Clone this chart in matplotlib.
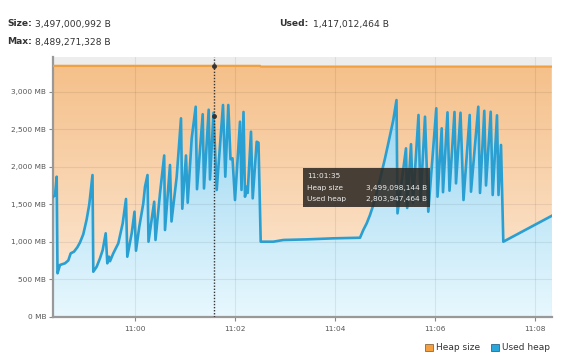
"""
Heap monitor chart: heap size vs used heap over ~10 minutes.
Time is kept as minutes after 11:00.
"""

import numpy as np
import matplotlib.pyplot as plt
from matplotlib.patches import Rectangle, Patch

# ─────────────────────────────────────────────
# Data
# ─────────────────────────────────────────────
heap_t = [-1.634, 2.50, 2.52, 8.334]
heap_mb = [3345, 3345, 3335, 3335]

used_t = [
    -1.634, -1.60, -1.566, -1.55, -1.50, -1.40, -1.334, -1.286, -1.22, -1.154,
    -1.10, -1.034, -0.966, -0.914, -0.85, -0.834, -0.766, -0.70, -0.646, -0.586,
    -0.554, -0.52, -0.50, -0.434, -0.334, -0.246, -0.18, -0.154, -0.066, -0.01,
    0.02, 0.086, 0.166, 0.20, 0.25, 0.27, 0.384, 0.41, 0.50, 0.584,
    0.60, 0.70, 0.73, 0.834, 0.92, 0.946, 1.02, 1.054, 1.134, 1.214,
    1.24, 1.354, 1.38, 1.474, 1.50, 1.57, 1.634, 1.76, 1.806, 1.866,
    1.91, 1.95, 2.00, 2.10, 2.13, 2.17, 2.20, 2.234, 2.254, 2.32,
    2.354, 2.434, 2.47, 2.514, 2.766, 2.966, 3.434, 3.966, 4.50, 4.566,
    4.634, 4.70, 4.766, 4.866, 5.00, 5.066, 5.166, 5.23, 5.25, 5.42,
    5.444, 5.52, 5.56, 5.67, 5.71, 5.80, 5.866, 6.026, 6.05, 6.134,
    6.16, 6.25, 6.29, 6.39, 6.42, 6.51, 6.57, 6.694, 6.72, 6.866,
    6.90, 6.986, 7.02, 7.114, 7.154, 7.24, 7.27, 7.32, 7.366, 8.334,
]
used_mb = [
    1600, 1620, 1867, 579, 690, 712, 750, 845, 867, 925,
    990, 1100, 1300, 1500, 1889, 600, 667, 779, 889, 1112,
    712, 800, 740, 845, 978, 1245, 1570, 800, 1112, 1400,
    880, 1200, 1512, 1733, 1889, 1000, 1533, 1023, 1645, 2150,
    1156, 2023, 1270, 1867, 2645, 1440, 2150, 1520, 2379, 2800,
    1700, 2700, 1710, 2760, 1830, 2720, 1690, 2823, 1867, 2823,
    2100, 2112, 1556, 2600, 1690, 2730, 1600, 1733, 1650, 2467,
    1578, 2333, 2320, 1000, 1000, 1023, 1031, 1045, 1053, 1156,
    1245, 1356, 1489, 1733, 2112, 2312, 2623, 2889, 1378, 2245,
    1450, 2300, 1520, 2690, 1540, 2667, 1400, 2779, 1600, 2512,
    1660, 2725, 1680, 2730, 1778, 2720, 1556, 2690, 1667, 2800,
    1650, 2745, 1750, 2733, 1623, 2685, 1623, 2290, 1000, 1345,
]

x_ticks = [0, 2, 4, 6, 8]
x_tick_labels = ['11:00', '11:02', '11:04', '11:06', '11:08']
y_ticks = [0, 500, 1000, 1500, 2000, 2500, 3000]
y_tick_labels = ['0 MB', '500 MB', '1,000 MB', '1,500 MB', '2,000 MB',
                 '2,500 MB', '3,000 MB']

cursor_t = 1.583          # 11:01:35
cursor_heap_mb = 3345
cursor_used_mb = 2674

header_size = '3,497,000,992 B'
header_max = '8,489,271,328 B'
header_used = '1,417,012,464 B'
tip_time = '11:01:35'
tip_heap = '3,499,098,144 B'
tip_used = '2,803,947,464 B'

# colours
HEAP_LINE = '#F0A040'
USED_LINE = '#2A9FD2'
TEXT = '#555555'

plt.rcParams['font.family'] = ['DejaVu Sans']

W, H = 569, 357
fig = plt.figure(figsize=(W / 100, H / 100), dpi=100)
ax = fig.add_axes([53.3 / W, 1 - 316.7 / H, (551.7 - 53.3) / W, (316.7 - 56.7) / H])

x0, x1 = -1.634, 8.334
y0, y1 = 0, 3467
ax.set_xlim(x0, x1)
ax.set_ylim(y0, y1)
ax.set_facecolor('#EDEDED')


def gradient_fill(t, v, top_rgb, bottom_rgb, vmax, z):
    """fill under (t, v) with a vertical gradient, clipped to the area."""
    poly = ax.fill_between(t, v, 0, color='none', lw=0)
    grad = np.linspace(0, 1, 256)[:, None]
    top = np.array(top_rgb) / 255
    bot = np.array(bottom_rgb) / 255
    img = top[None, None, :] * (1 - grad[:, :, None]) + bot[None, None, :] * grad[:, :, None]
    im = ax.imshow(img, extent=[x0, x1, 0, vmax], origin='upper',
                   aspect='auto', zorder=z, interpolation='bilinear')
    im.set_clip_path(poly.get_paths()[0], transform=ax.transData)


gradient_fill(heap_t, heap_mb, (245, 192, 138), (253, 236, 220), 3345, 0.6)
gradient_fill(used_t, used_mb, (150, 212, 240), (232, 248, 254), 3000, 0.7)

ax.set_xlim(x0, x1)
ax.set_ylim(y0, y1)

ax.plot(heap_t, heap_mb, color=HEAP_LINE, lw=1.6, zorder=3)
ax.plot(used_t, used_mb, color=USED_LINE, lw=1.9, zorder=3)

# grid
ax.set_axisbelow('line')
ax.grid(True, color='#000000', alpha=0.07, lw=0.8)

# cursor
ax.axvline(cursor_t, color='#333333', lw=1.0, ls=(0, (1, 1.2)), zorder=4)
ax.plot([cursor_t, cursor_t], [cursor_heap_mb, cursor_used_mb], 'o',
        color='#333333', ms=2.5, zorder=5)

# axes decoration
ax.set_xticks(x_ticks)
ax.set_xticklabels(x_tick_labels)
ax.set_yticks(y_ticks)
ax.set_yticklabels(y_tick_labels)
ax.tick_params(axis='both', labelsize=5.3, colors='#888888', labelcolor=TEXT,
               length=3, width=0.8, pad=2)
ax.tick_params(axis='x', pad=4)
for side in ['top', 'right']:
    ax.spines[side].set_visible(False)
for side in ['left', 'bottom']:
    ax.spines[side].set_color('#999999')
    ax.spines[side].set_linewidth(1.6)


# tooltip
def px(x, y):
    return x / W, 1 - y / H


bx, by = px(303, 207)
fig.patches.append(Rectangle((bx, by), 127 / W, 39 / H, transform=fig.transFigure,
                             facecolor='#2E2A25', edgecolor='none', alpha=0.88,
                             zorder=10))
tip_kw = dict(color='#EDEDED', fontsize=5.3, va='center', zorder=11)
fig.text(*px(307, 176.5), tip_time, **tip_kw)
fig.text(*px(307, 188), 'Heap size', **tip_kw)
fig.text(*px(307, 199.5), 'Used heap', **tip_kw)
fig.text(*px(427, 188), tip_heap, ha='right', **tip_kw)
fig.text(*px(427, 199.5), tip_used, ha='right', **tip_kw)

# header
hdr_kw = dict(fontsize=6.6, color='#333333', va='center')
fig.text(*px(7, 24), 'Size:', fontweight='bold', **hdr_kw)
fig.text(*px(35, 24), header_size, **hdr_kw)
fig.text(*px(7, 42), 'Max:', fontweight='bold', **hdr_kw)
fig.text(*px(35, 42), header_max, **hdr_kw)
fig.text(*px(279, 24), 'Used:', fontweight='bold', **hdr_kw)
fig.text(*px(313, 24), header_used, **hdr_kw)

# legend
handles = [Patch(facecolor='#F5A040', edgecolor='#8A6A40', lw=0.6, label='Heap size'),
           Patch(facecolor='#2AA6DA', edgecolor='#2A6A8A', lw=0.6, label='Used heap')]
fig.legend(handles=handles, loc='center right', bbox_to_anchor=(555 / W, 1 - 348 / H),
           ncol=2, frameon=False, fontsize=6.5, handlelength=0.9, handleheight=0.9,
           handletextpad=0.35, columnspacing=1.2, borderpad=0, labelcolor='#333333')

fig.savefig('out.png', dpi=100)
